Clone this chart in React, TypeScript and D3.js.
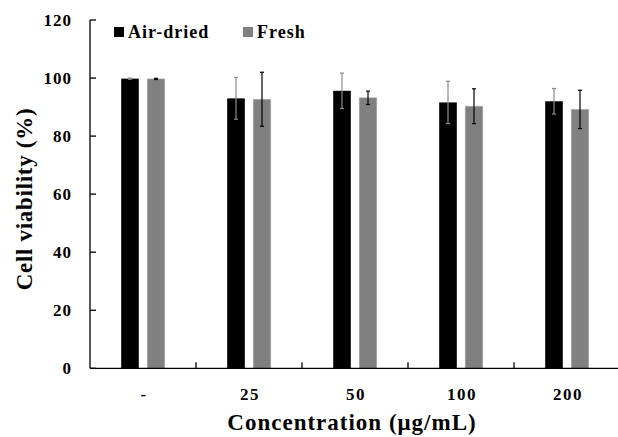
import React from "react";
import * as d3 from "d3";

const categories = ["-", "25", "50", "100", "200"];
const seriesNames = ["Air-dried", "Fresh"];
const airDried = [99.8, 93.0, 95.6, 91.6, 92.0];
const airDriedErr = [0.2, 7.2, 6.1, 7.3, 4.4];
const fresh = [99.7, 92.7, 93.2, 90.3, 89.2];
const freshErr = [0.2, 9.3, 2.3, 6.0, 6.6];
const yTicks = [0, 20, 40, 60, 80, 100, 120];

const seriesColors = ["#000000", "#808080"];
const errColors = ["#8c8c8c", "#000000"];

export default function App() {
  const W = 618;
  const H = 437;
  const left = 90;
  const right = 620;
  const top = 20;
  const bottom = 368.3;
  const font = "Liberation Serif, Times New Roman, DejaVu Serif, serif";

  const x0 = d3.scaleBand<string>().domain(categories).range([left, right]).padding(0);
  const x1 = d3
    .scaleBand<string>()
    .domain(seriesNames)
    .range([0, x0.bandwidth()])
    .paddingInner(0.323)
    .paddingOuter(1.2);
  const y = d3.scaleLinear().domain([0, 120]).range([bottom, top]);

  const data = [
    { vals: airDried, errs: airDriedErr },
    { vals: fresh, errs: freshErr },
  ];

  return (
    <svg
      width={W}
      height={H}
      style={{ position: "absolute", left: 0, top: 0, background: "#fff", fontFamily: font, fontWeight: 700 }}
    >
      {/* bars */}
      {data.map((s, si) =>
        categories.map((c, ci) => {
          const bx = (x0(c) ?? 0) + (x1(seriesNames[si]) ?? 0);
          const bw = x1.bandwidth();
          return (
            <rect
              key={`b${si}-${ci}`}
              x={bx}
              y={y(s.vals[ci])}
              width={bw}
              height={y(0) - y(s.vals[ci])}
              fill={seriesColors[si]}
              stroke={si === 1 ? "#b0b0b0" : "none"}
              strokeWidth={si === 1 ? 0.6 : 0}
            />
          );
        })
      )}
      {/* error bars */}
      {data.map((s, si) =>
        categories.map((c, ci) => {
          const cx = (x0(c) ?? 0) + (x1(seriesNames[si]) ?? 0) + x1.bandwidth() / 2;
          const hi = y(s.vals[ci] + s.errs[ci]);
          const lo = y(s.vals[ci] - s.errs[ci]);
          return (
            <g key={`e${si}-${ci}`} stroke={errColors[si]} strokeWidth={1.2}>
              <line x1={cx} x2={cx} y1={hi} y2={lo} />
              <line x1={cx - 2} x2={cx + 2} y1={hi} y2={hi} />
              <line x1={cx - 2} x2={cx + 2} y1={lo} y2={lo} />
            </g>
          );
        })
      )}
      {/* y axis */}
      <line x1={left} x2={left} y1={top} y2={bottom} stroke="#000" strokeWidth={1.3} />
      {yTicks.map((t) => (
        <g key={`yt${t}`}>
          <line x1={left} x2={left + 6} y1={y(t)} y2={y(t)} stroke="#000" strokeWidth={1.3} />
          <text x={72} y={y(t)} dy="0.35em" textAnchor="end" fontSize={17} letterSpacing={1}>
            {t}
          </text>
        </g>
      ))}
      {/* x axis */}
      <line x1={left} x2={W} y1={bottom} y2={bottom} stroke="#000" strokeWidth={1.3} />
      {categories.map((c, ci) =>
        ci === 0 ? null : (
          <line
            key={`xt${c}`}
            x1={x0(c)}
            x2={x0(c)}
            y1={bottom}
            y2={bottom - 6}
            stroke="#000"
            strokeWidth={1.3}
          />
        )
      )}
      {categories.map((c) => (
        <text
          key={`xl${c}`}
          x={(x0(c) ?? 0) + x0.bandwidth() / 2 + 1}
          y={394}
          dy="0.35em"
          textAnchor="middle"
          fontSize={17}
          letterSpacing={1.5}
        >
          {c}
        </text>
      ))}
      {/* axis titles */}
      <text x={352} y={430} textAnchor="middle" fontSize={23} letterSpacing={1}>
        Concentration (μg/mL)
      </text>
      <text
        transform={`translate(32, 199) rotate(-90)`}
        textAnchor="middle"
        fontSize={23}
        letterSpacing={0.7}
      >
        Cell viability (%)
      </text>
      {/* legend */}
      {seriesNames.map((n, i) => {
        const lx = i === 0 ? 114 : 243;
        return (
          <g key={`lg${n}`}>
            <rect x={lx} y={27} width={10} height={10} fill={seriesColors[i]} />
            <text x={lx + 14} y={38} fontSize={18} letterSpacing={1}>
              {n}
            </text>
          </g>
        );
      })}
    </svg>
  );
}
